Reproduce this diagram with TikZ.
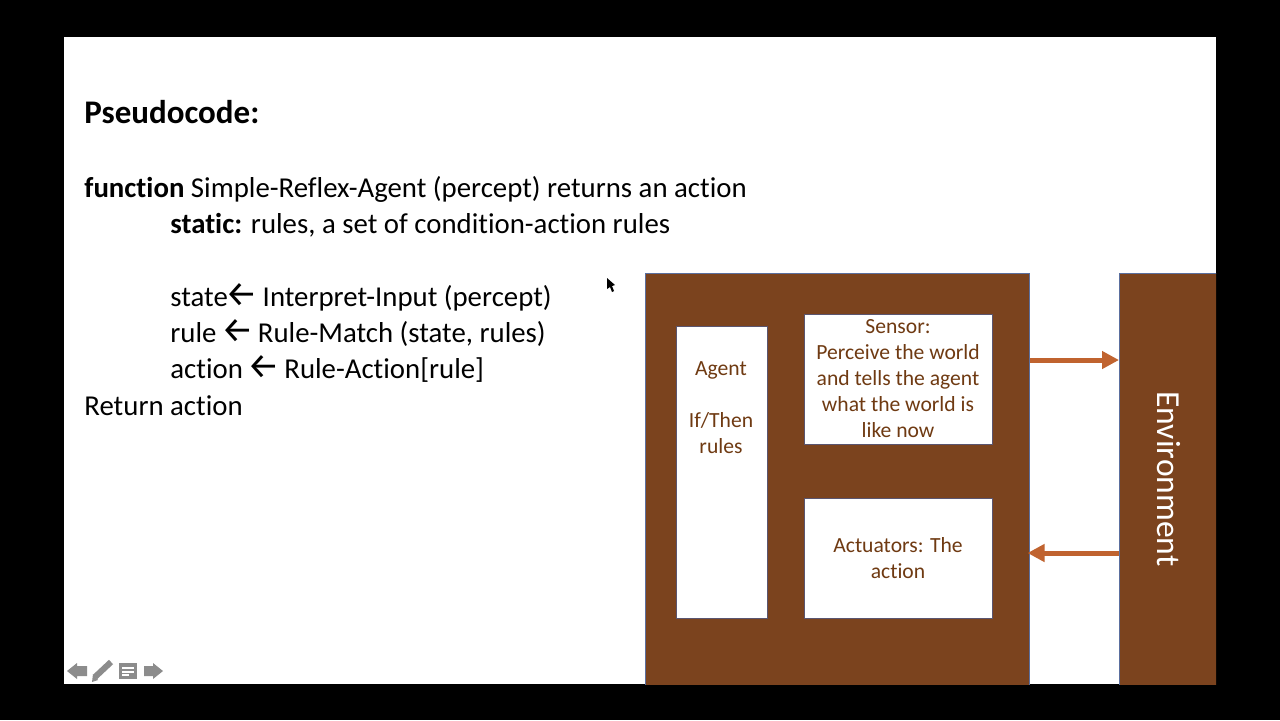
\documentclass[tikz,border=0pt]{standalone}
\usepackage{fontspec}
\setmainfont[Ligatures=NoCommon]{Carlito}
\newfontfamily\arrowfont{Fira Sans}
\usetikzlibrary{arrows.meta,positioning}
\definecolor{barkbrown}{HTML}{7B431E}
\definecolor{inkbrown}{HTML}{6F3A12}
\definecolor{flowbrown}{HTML}{C0632F}
\definecolor{edgeblue}{HTML}{5B6F9E}
\definecolor{panelgray}{HTML}{5A5570}
\definecolor{navgray}{HTML}{8C8C8C}
\newcommand{\larrow}{{\kern-1pt\arrowfont\fontsize{18}{18}\selectfont ←\kern-1pt}}
\tikzset{
  codeline/.style={anchor=base west, inner sep=0pt, font=\fontsize{14.4}{18}\selectfont},
  block/.style={draw=edgeblue, line width=0.5pt, fill=barkbrown, anchor=north west, inner sep=0pt, outer sep=0pt},
  panel/.style={draw=panelgray, line width=0.45pt, fill=white, anchor=north west, align=center, text=inkbrown,
    inner sep=2pt, outer sep=0pt, font=\fontsize{10.8}{13}\selectfont},
  flow/.style={-{Triangle[length=8.5pt, width=8.5pt]}, draw=flowbrown, fill=flowbrown, line width=2.5pt},
  navicon/.style={fill=navgray, draw=none}
}
\begin{document}
\begin{tikzpicture}[x=0.5pt, y=-0.5pt]
    \useasboundingbox (0,0) rectangle (1280,720);
    % Slide
    \fill[black] (0,0) rectangle (1280,720);
    \fill[white] (64,37) rectangle (1216,684);
    % Pseudocode
    \node[codeline, font=\fontsize{16.5}{18}\selectfont\bfseries] (title) at (84,123) {Pseudocode:};
    \node[codeline] (funcline) at (84,197) {\textbf{function} Simple-Reflex-Agent (percept) returns an action};
    \node[codeline] (staticline) at (170,233) {\textbf{static:} rules, a set of condition-action rules};
    \node[codeline] (stateline) at (170,306) {state\larrow\ Interpret-Input (percept)};
    \node[codeline] (ruleline) at (170,342) {rule \larrow\ Rule-Match (state, rules)};
    \node[codeline] (actionline) at (170,378) {action \larrow\ Rule-Action[rule]};
    \node[codeline] (returnline) at (84,415) {Return action};
    % Blocks
    \begin{scope}
      \clip (64,37) rectangle (1216,684);
      \node[block, minimum width=192pt, minimum height=220pt] (agentbox) at (645.5,273) {};
      \node[block, minimum width=70pt, minimum height=220pt] (envbox) at (1119,273) {};
    \end{scope}
    \node[panel, minimum width=45.5pt, minimum height=146pt] (rulesbox) at (676,326) {};
    \node[align=center, text=inkbrown, inner sep=0pt, font=\fontsize{10.8}{13}\selectfont] (rulestext) at (721,408) {Agent\\[13pt]If/Then\\rules};
    \node[panel, minimum width=94pt, minimum height=65pt] (sensorbox) at (804,314) {Sensor:\\Perceive the world\\and tells the agent\\what the world is\\like now};
    \node[panel, minimum width=94pt, minimum height=60pt] (actuatorbox) at (804,498) {Actuators: The\\action};
    \node[rotate=-90, text=white, inner sep=0pt, font=\fontsize{16.8}{18}\selectfont] (envtext) at (1169,479) {Environment};
    % Arrows
    \coordinate (sensorlevel) at (1074,360);
    \coordinate (actuatorlevel) at (1074,553);
    \draw[flow] (agentbox.east |- sensorlevel) -- (envbox.west |- sensorlevel);
    \draw[flow, shorten >=-1pt] (envbox.west |- actuatorlevel) -- (agentbox.east |- actuatorlevel);
    % Player controls
    \fill[navicon] (67,671) -- (77,663) -- (77,666) -- (87,666) -- (87,676) -- (77,676) -- (77,679) -- cycle;
    \draw[navgray, line width=3pt] (95,677) -- (111,662);
    \fill[navicon] (92,682) -- (93,674) -- (98,680) -- cycle;
    \fill[navicon] (119,663) rectangle (137,679);
    \draw[white, line width=0.7pt] (122,668) -- (134,668) (122,672) -- (134,672) (122,675) -- (129,675);
    \fill[navicon] (163,671) -- (153,663) -- (153,666) -- (144,666) -- (144,676) -- (153,676) -- (153,679) -- cycle;
    % Cursor
    \fill[black] (607,278) -- (607,289) -- (610,287) -- (612,292) -- (614,291) -- (612,286) -- (615,285) -- cycle;
\end{tikzpicture}
\end{document}
